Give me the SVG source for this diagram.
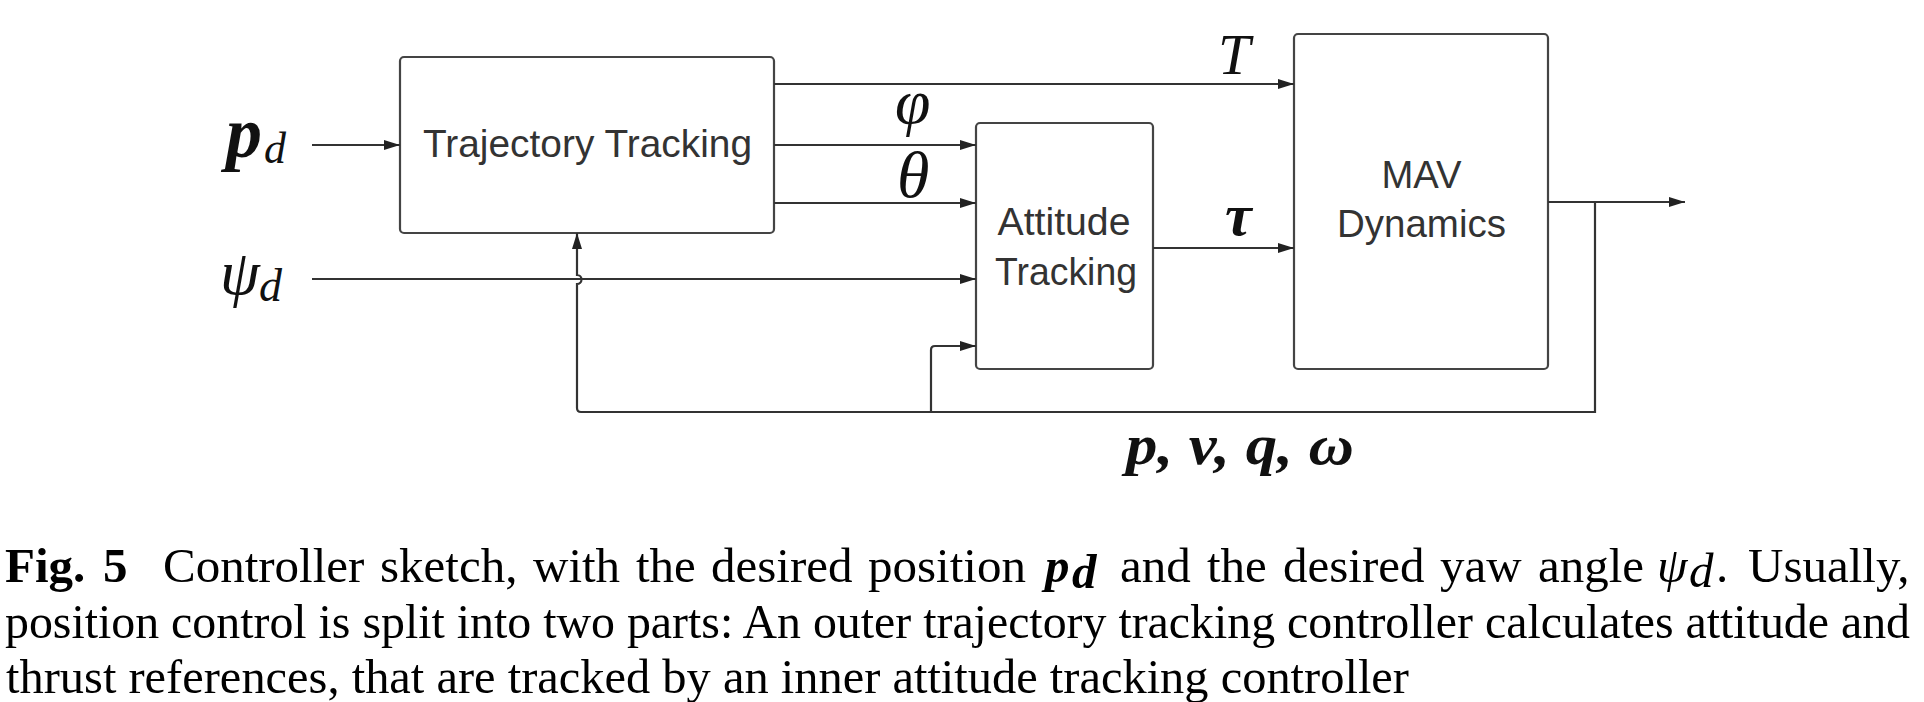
<svg xmlns="http://www.w3.org/2000/svg" width="1924" height="702" viewBox="0 0 1924 702">
<defs>
<marker id="arr" markerUnits="userSpaceOnUse" markerWidth="16" markerHeight="12" refX="16" refY="6" orient="auto">
<path d="M0,1 L16,6 L0,11 z" fill="#222"/>
</marker>
<style>
.box{fill:#fff;stroke:#444;stroke-width:2.2}
.lbl{font-family:"Liberation Sans",Arial,sans-serif;font-size:39px;fill:#333;text-anchor:middle}
.con{fill:none;stroke:#333;stroke-width:2.2}
.m{font-family:"Liberation Serif","Times New Roman",serif;font-style:italic;fill:#111}
.mb{font-family:"Liberation Serif","Times New Roman",serif;font-style:italic;font-weight:bold;fill:#111}
.cap{font-family:"Liberation Serif","Times New Roman",serif;font-size:49px;fill:#000}
</style>
</defs>
<rect width="1924" height="702" fill="#fff"/>
<g id="traj">
<rect class="box" x="400" y="57" width="374" height="176" rx="4"/>
<text class="lbl" x="587.5" y="157" textLength="329" lengthAdjust="spacingAndGlyphs">Trajectory Tracking</text>
</g>
<g id="att">
<rect class="box" x="976" y="123" width="177" height="246" rx="4"/>
<text class="lbl" x="1064" y="235" textLength="133" lengthAdjust="spacingAndGlyphs">Attitude</text>
<text class="lbl" x="1066" y="285" textLength="142" lengthAdjust="spacingAndGlyphs">Tracking</text>
</g>
<g id="mav">
<rect class="box" x="1294" y="34" width="254" height="335" rx="4"/>
<text class="lbl" x="1421.5" y="188" textLength="80" lengthAdjust="spacingAndGlyphs">MAV</text>
<text class="lbl" x="1421.5" y="236.5" textLength="169" lengthAdjust="spacingAndGlyphs">Dynamics</text>
</g>
<g id="connectors">
<path class="con" d="M312,145 H400" marker-end="url(#arr)"/>
<path class="con" d="M774,84 H1294" marker-end="url(#arr)"/>
<path class="con" d="M774,145 H976" marker-end="url(#arr)"/>
<path class="con" d="M774,203 H976" marker-end="url(#arr)"/>
<path class="con" d="M312,279 H976" marker-end="url(#arr)"/>
<path class="con" d="M1153,248 H1294" marker-end="url(#arr)"/>
<path class="con" d="M1548,202 H1685" marker-end="url(#arr)"/>
<path class="con" d="M1595,202 V412 H581 Q577,412 577,408 V284 A4.5,4.5 0 0 0 577,275 V233" marker-end="url(#arr)"/>
<path class="con" d="M931,412 V350 Q931,346 935,346 H976" marker-end="url(#arr)"/>
</g>
<g id="labels">
<text class="mb" x="226" y="157" font-size="72">p</text>
<text class="m" x="264" y="163" font-size="44">d</text>
<text class="m" x="220" y="294" font-size="64">ψ</text>
<text class="m" x="259" y="301" font-size="46">d</text>
<text class="m" x="1218" y="74" font-size="58">T</text>
<text class="m" x="895" y="123" font-size="64">φ</text>
<text class="m" x="897" y="197" font-size="66">θ</text>
<text class="mb" x="1225" y="235" font-size="60">τ</text>
<text class="mb" x="1126" y="464" font-size="58" textLength="228" lengthAdjust="spacingAndGlyphs">p, v, q, ω</text>
</g>
<g id="caption">
<text class="cap" y="582"><tspan x="5" font-weight="bold">Fig.</tspan><tspan x="103" font-weight="bold">5</tspan><tspan x="163">Controller</tspan><tspan x="380">sketch,</tspan><tspan x="533">with</tspan><tspan x="636">the</tspan><tspan x="711">desired</tspan><tspan x="868">position</tspan><tspan x="1120">and</tspan><tspan x="1207">the</tspan><tspan x="1283">desired</tspan><tspan x="1440">yaw</tspan><tspan x="1538">angle</tspan><tspan x="1716">.</tspan><tspan x="1748">Usually,</tspan></text>
<text class="cap" x="1045" y="582" font-style="italic" font-weight="bold">p</text>
<text class="cap" x="1072" y="588" font-size="34" font-style="italic" font-weight="bold">d</text>
<text class="cap" x="1657" y="582" font-style="italic">ψ</text>
<text class="cap" x="1689" y="587" font-size="34" font-style="italic">d</text>
<text class="cap" x="5" y="638" textLength="1905" lengthAdjust="spacingAndGlyphs">position control is split into two parts: An outer trajectory tracking controller calculates attitude and</text>
<text class="cap" x="6" y="693" textLength="1403" lengthAdjust="spacingAndGlyphs">thrust references, that are tracked by an inner attitude tracking controller</text>
</g>
</svg>
